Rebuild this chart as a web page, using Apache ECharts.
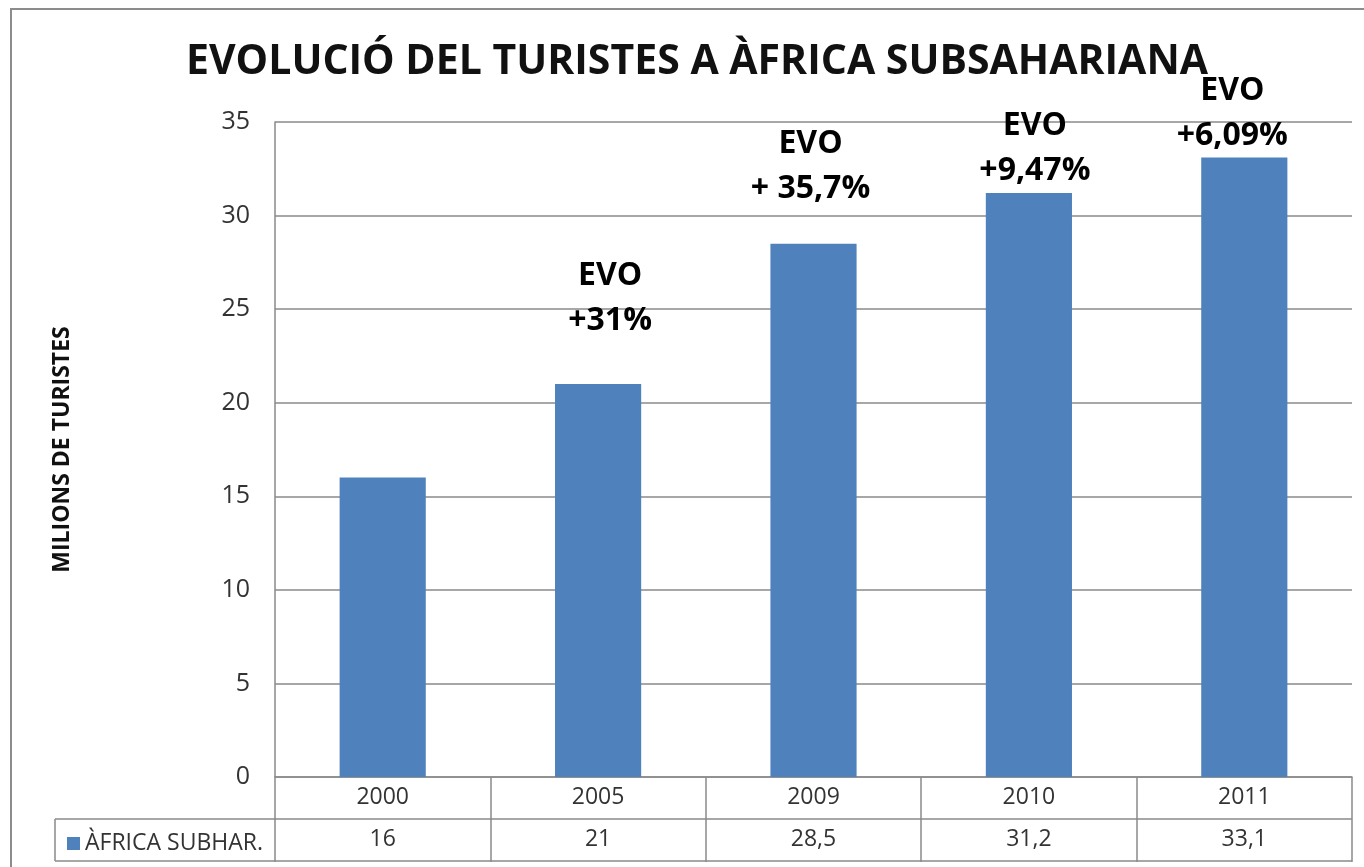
<!DOCTYPE html>
<html>
<head>
<meta charset="utf-8">
<title>Evolució del turistes a Àfrica Subsahariana</title>
<script src="https://cdn.jsdelivr.net/npm/echarts@6/dist/echarts.min.js"></script>
<style>
  html, body { margin: 0; padding: 0; background: #ffffff; }
  #chart { width: 1364px; height: 867px; }
</style>
</head>
<body>
<div id="chart"></div>
<script>
// Tourist arrivals in Sub-Saharan Africa (millions)
const years = ['2000', '2005', '2009', '2010', '2011'];
const tourists = [16, 21, 28.5, 31.2, 33.1];
const growthNotes = ['', 'EVO\n+31%', 'EVO\n+ 35,7%', 'EVO\n+9,47%', 'EVO\n+6,09%'];
const yTicks = { min: 0, max: 35, interval: 5 };
const seriesName = 'ÀFRICA SUBHAR.';

// label placement tweaks for the growth notes (px)
const noteOffsets = [[0, 0], [12, -36], [-3, -27], [6, 5], [-12, 6]];

const GRID = { left: 275, right: 12, top: 122, bottom: 90 };
const ROW_H = 42;
const LINE = '#8a8a8a';
const FONT = '"Open Sans", "DejaVu Sans", sans-serif';

const chart = echarts.init(document.getElementById('chart'), null, { renderer: 'canvas' });

const fmt = v => String(v).replace('.', ',');

const H = 867;
const axisY = H - GRID.bottom;
const tableLeft = 55;
const tableRight = 1364 - GRID.right;

chart.setOption({
  animation: false,
  backgroundColor: '#ffffff',
  title: {
    text: 'EVOLUCIÓ DEL TURISTES A ÀFRICA SUBSAHARIANA',
    left: 692,
    textAlign: 'center',
    top: 37,
    textStyle: { fontFamily: FONT, fontSize: 41, fontWeight: 'bold', color: '#111111' }
  },
  legend: {
    data: [seriesName],
    left: 62,
    top: axisY + ROW_H + 8,
    icon: 'rect',
    itemWidth: 13,
    itemHeight: 13,
    itemGap: 8,
    textStyle: { fontFamily: FONT, fontSize: 23, color: '#333333' }
  },
  grid: { left: GRID.left, right: GRID.right, top: GRID.top, bottom: GRID.bottom, containLabel: false },
  xAxis: [
    {
      type: 'category',
      data: years,
      position: 'bottom',
      axisLine: { show: true, lineStyle: { color: LINE, width: 1.5 } },
      axisTick: { show: true, length: ROW_H * 2 + 1, lineStyle: { color: LINE, width: 1.5 } },
      axisLabel: { margin: 9, fontFamily: FONT, fontSize: 23, color: '#333333' }
    },
    {
      type: 'category',
      data: tourists.map(fmt),
      position: 'bottom',
      offset: ROW_H,
      axisLine: { show: false },
      axisTick: { show: false },
      axisLabel: { margin: 9, fontFamily: FONT, fontSize: 23, color: '#333333' }
    }
  ],
  yAxis: {
    type: 'value',
    min: yTicks.min,
    max: yTicks.max,
    interval: yTicks.interval,
    name: 'MILIONS DE TURISTES',
    nameLocation: 'middle',
    nameRotate: 90,
    nameGap: 201,
    nameTextStyle: { fontFamily: FONT, fontSize: 23, fontWeight: 'bold', color: '#111111' },
    axisLine: { show: true, lineStyle: { color: LINE, width: 1.5 } },
    axisTick: { show: false },
    axisLabel: { margin: 25, fontFamily: FONT, fontSize: 25, color: '#333333' },
    splitLine: { show: true, lineStyle: { color: LINE, width: 1.5 } }
  },
  series: [{
    name: seriesName,
    type: 'bar',
    xAxisIndex: 0,
    barWidth: '40%',
    itemStyle: { color: '#4f81bd' },
    data: tourists.map((v, i) => ({
      value: v,
      label: {
        show: growthNotes[i] !== '',
        position: 'top',
        distance: 5,
        offset: noteOffsets[i],
        formatter: growthNotes[i],
        fontFamily: FONT,
        fontSize: 32,
        fontWeight: 'bold',
        lineHeight: 45,
        color: '#000000',
        align: 'center'
      }
    }))
  }],
  graphic: [
    // outer chart frame
    { type: 'rect', shape: { x: 11, y: 9, width: 1400, height: 900 }, style: { fill: 'none', stroke: '#8c8c8c', lineWidth: 2 }, silent: true },
    // data table borders
    { type: 'line', shape: { x1: tableLeft, y1: axisY + ROW_H, x2: tableRight, y2: axisY + ROW_H }, style: { stroke: LINE, lineWidth: 1.5 }, silent: true },
    { type: 'line', shape: { x1: tableLeft, y1: axisY + ROW_H * 2, x2: tableRight, y2: axisY + ROW_H * 2 }, style: { stroke: LINE, lineWidth: 1.5 }, silent: true },
    { type: 'line', shape: { x1: tableLeft, y1: axisY + ROW_H, x2: tableLeft, y2: axisY + ROW_H * 2 }, style: { stroke: LINE, lineWidth: 1.5 }, silent: true }
  ]
});
</script>
</body>
</html>
